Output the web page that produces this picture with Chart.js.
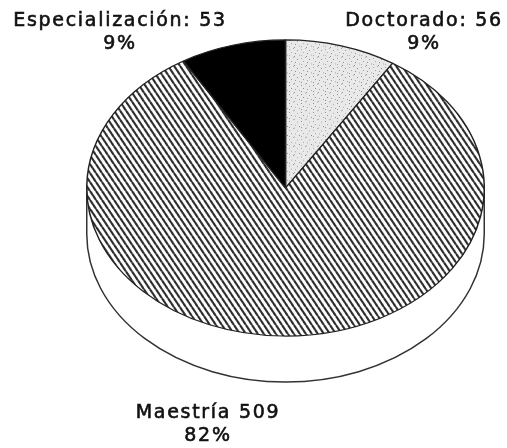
<!DOCTYPE html>
<html>
<head>
<meta charset="utf-8">
<script src="https://cdn.jsdelivr.net/npm/chart.js@4"></script>
<style>
  html, body { margin: 0; padding: 0; background: #ffffff; }
  canvas { display: block; }
</style>
</head>
<body>
<canvas id="torta" width="507" height="448"></canvas>
<script>
const categorias = ["Doctorado", "Maestría", "Especialización"];
const cantidad = [56, 509, 53];
const etiquetas = ["Doctorado: 56", "Maestría 509", "Especialización: 53"];
const porcentajes = ["9%", "82%", "9%"];

// Tilt of the fake 3D pie
const centroY = 188;
const aplastado = 0.745;
const grosor = 46;

const rayado = () => {
  const c = document.createElement("canvas");
  c.width = 6;
  c.height = 12;
  const g = c.getContext("2d");
  g.fillStyle = "#ffffff";
  g.fillRect(0, 0, 6, 12);
  g.strokeStyle = "#2b2b2b";
  g.lineWidth = 2.3;
  for (let i = -6; i <= 6; i += 6) {
    g.beginPath();
    g.moveTo(i, 0);
    g.lineTo(i + 6, 12);
    g.stroke();
  }
  return g.createPattern(c, "repeat");
};

const punteado = () => {
  const c = document.createElement("canvas");
  c.width = 12;
  c.height = 12;
  const g = c.getContext("2d");
  g.fillStyle = "#e9e9e9";
  g.fillRect(0, 0, 12, 12);
  g.fillStyle = "#8a8a8a";
  [[1, 2], [5, 0], [9, 3], [3, 6], [7, 7], [11, 9], [1, 10], [6, 11]].forEach(([x, y]) => g.fillRect(x, y, 1, 1));
  return g.createPattern(c, "repeat");
};

const aplastar = {
  id: "aplastar",
  beforeDatasetsDraw(chart) {
    const ctx = chart.ctx;
    const arco = chart.getDatasetMeta(0).data[0];
    const r = arco.outerRadius;
    const cy = centroY + grosor;
    // side wall
    ctx.save();
    ctx.beginPath();
    ctx.moveTo(arco.x - r, centroY);
    ctx.lineTo(arco.x - r, cy);
    ctx.ellipse(arco.x, cy, r, r * aplastado, 0, Math.PI, 0, true);
    ctx.lineTo(arco.x + r, centroY);
    ctx.fillStyle = "#ffffff";
    ctx.fill();
    ctx.strokeStyle = "#333333";
    ctx.lineWidth = 1.5;
    ctx.stroke();
    ctx.restore();
    // squash the arcs
    ctx.save();
    ctx.translate(0, centroY);
    ctx.scale(1, aplastado);
    ctx.translate(0, -arco.y);
  },
  afterDatasetsDraw(chart) {
    chart.ctx.restore();
  },
};

const textos = {
  id: "textos",
  afterDraw(chart) {
    const ctx = chart.ctx;
    const lugares = [[424, 21, 44], [208, 413, 436], [120, 21, 44]];
    ctx.save();
    ctx.fillStyle = "#111111";
    ctx.strokeStyle = "#111111";
    ctx.lineWidth = 0.6;
    ctx.font = "19px 'DejaVu Sans'";
    ctx.letterSpacing = "1.7px";
    ctx.textAlign = "center";
    ctx.textBaseline = "middle";
    lugares.forEach(([x, y1, y2], i) => {
      ctx.fillText(etiquetas[i], x, y1);
      ctx.strokeText(etiquetas[i], x, y1);
      ctx.fillText(porcentajes[i], x, y2);
      ctx.strokeText(porcentajes[i], x, y2);
    });
    ctx.restore();
  },
};

new Chart("torta", {
  type: "pie",
  data: {
    labels: categorias,
    datasets: [
      {
        data: cantidad,
        backgroundColor: [punteado(), rayado(), "#000000"],
        borderColor: "#222222",
        borderWidth: 1.5,
      },
    ],
  },
  options: {
    responsive: false,
    animation: false,
    layout: { padding: { left: 86, right: 22 } },
    plugins: {
      legend: { display: false },
      tooltip: { enabled: false },
    },
  },
  plugins: [aplastar, textos],
});
</script>
</body>
</html>
